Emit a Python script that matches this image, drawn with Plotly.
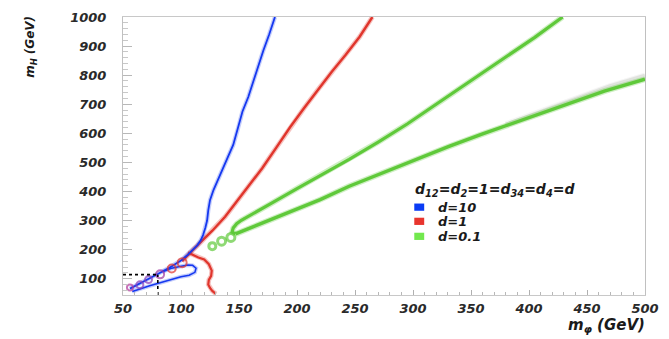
import plotly.graph_objects as go

# --- contour lines in the (m_phi, m_H) plane ---------------------------------
# d = 10 (blue)
blue_x = [56, 63, 71, 80, 90, 100, 106, 110, 114, 117, 119, 121, 122.5, 123.5, 125, 128,
          132, 136, 140, 145, 149, 153, 158, 162, 166, 171, 176, 181]
blue_y = [66, 80, 97, 116, 138, 163, 183, 200, 215, 232, 250, 275, 300, 335, 370, 405,
          440, 475, 515, 560, 615, 675, 725, 775, 830, 885, 940, 1000]
blue_loop_x = [84, 91, 99, 106, 110, 113, 112, 107, 100, 91, 82, 73, 64, 58]
blue_loop_y = [124, 135, 142, 147, 146, 136, 122, 112, 107, 97, 86, 76, 64, 56]

# d = 1 (red)
red_x = [101, 105, 110, 118, 127, 138, 148, 159, 170, 182, 194, 206, 218, 230, 242, 254, 265]
red_y = [160, 178, 198, 230, 265, 313, 365, 421, 480, 550, 621, 686, 750, 812, 870, 932, 1000]
red_low_x = [106, 110, 115, 120, 124, 126.5, 126, 124, 123.5, 125, 127, 130]
red_low_y = [190, 182, 173, 166, 150, 128, 110, 96, 80, 68, 58, 48]

# small closed islands along the diagonal
island_x = [56, 64.5, 72, 82, 92, 101]
island_y = [70, 79, 97, 115, 135, 155]
island_col = ["#b0389a", "#8a3fb8", "#8a3fb8", "#a0389e", "#e0352e", "#e0352e"]
island_size = [6, 7, 7, 8, 8, 9]

# d = 0.1 (green)
green_up_x = [147, 144, 145, 148, 152, 160, 177, 200, 222, 245, 270, 295, 320, 350, 380, 405, 429]
green_up_y = [254, 260, 274, 289, 301, 318, 357, 410, 460, 510, 570, 632, 700, 780, 860, 930, 1000]
green_lo_x = [147, 152, 159, 177, 200, 220, 245, 270, 300, 331, 360, 400, 432, 465, 500]
green_lo_y = [254, 262, 274, 302, 340, 372, 418, 458, 508, 555, 598, 653, 700, 745, 786]
green_spread_x = [380, 430, 470, 500]
green_spread_y = [630, 705, 762, 798]
green_dot_x = [127, 135, 143]
green_dot_y = [212, 229, 242]

# reference bounds (dashed)
lep_mh = 114
lep_mphi = 80

x_ticks = [50, 100, 150, 200, 250, 300, 350, 400, 450, 500]
y_ticks = [100, 200, 300, 400, 500, 600, 700, 800, 900, 1000]

legend_labels = ["d=10", "d=1", "d=0.1"]
legend_colors = ["#0a3cf5", "#e8352e", "#72e84e"]

BLUE = "#1538f0"
RED = "#e0352c"
GREEN = "#5fc93a"
FONT = "DejaVu Sans"

fig = go.Figure()


def soft_line(x, y, color, width, halo="rgba(0,0,0,0)"):
    # wide translucent underlay to soften the stroke, then the line itself
    fig.add_trace(go.Scatter(x=x, y=y, mode="lines", hoverinfo="skip",
                             line=dict(color=halo, width=width + 2.5), showlegend=False))
    fig.add_trace(go.Scatter(x=x, y=y, mode="lines", hoverinfo="skip",
                             line=dict(color=color, width=width), showlegend=False))


soft_line(green_spread_x, green_spread_y, "rgba(150,165,140,0.22)", 4, "rgba(160,160,160,0.10)")
soft_line(green_up_x, green_up_y, GREEN, 3.2, "rgba(95,201,58,0.3)")
soft_line(green_lo_x, green_lo_y, GREEN, 3.4, "rgba(95,201,58,0.3)")
soft_line(red_x, red_y, RED, 2.4, "rgba(224,53,44,0.3)")
soft_line(red_low_x, red_low_y, RED, 2.2, "rgba(224,53,44,0.3)")
soft_line(blue_x, blue_y, BLUE, 1.8, "rgba(21,56,240,0.25)")
soft_line(blue_loop_x, blue_loop_y, BLUE, 1.5, "rgba(21,56,240,0.25)")

fig.add_trace(go.Scatter(x=island_x, y=island_y, mode="markers", hoverinfo="skip", showlegend=False,
                         marker=dict(symbol="circle-open", size=island_size,
                                     line=dict(color=island_col, width=2), color=island_col)))
fig.add_trace(go.Scatter(x=green_dot_x, y=green_dot_y, mode="markers", hoverinfo="skip", showlegend=False,
                         marker=dict(symbol="circle-open", size=[7, 8, 8], color=GREEN,
                                     line=dict(color=GREEN, width=3))))

# dashed bounds
fig.add_trace(go.Scatter(x=[50, lep_mphi], y=[lep_mh, lep_mh], mode="lines", hoverinfo="skip",
                         showlegend=False, line=dict(color="black", width=1.6, dash="3px,3px")))
fig.add_trace(go.Scatter(x=[lep_mphi, lep_mphi], y=[44, lep_mh], mode="lines", hoverinfo="skip",
                         showlegend=False, line=dict(color="black", width=1.6, dash="3px,3px")))

tick_font = dict(family=FONT, size=13, color="#2a2a2a", weight="bold", style="italic")

fig.update_layout(
    width=669, height=339,
    margin=dict(l=123, r=23, t=10, b=44),
    paper_bgcolor="white", plot_bgcolor="white",
    showlegend=False,
    xaxis=dict(range=[50, 500], tickvals=x_ticks, ticks="inside", ticklen=5, tickwidth=1,
               tickcolor="#b0b0b0", showgrid=False, zeroline=False, showline=True,
               linecolor="#c8c8c8", linewidth=1, mirror=True, tickfont=tick_font,
               ticklabelstandoff=1,
               minor=dict(ticks="inside", dtick=10, ticklen=3, tickcolor="#b8b8b8")),
    yaxis=dict(range=[44, 1000], tickvals=y_ticks, ticks="inside", ticklen=9, tickwidth=1,
               tickcolor="#b8b8b8", showgrid=False, zeroline=False, showline=True,
               linecolor="#c0c0c0", linewidth=1, mirror=True, tickfont=tick_font,
               ticklabelstandoff=13,
               minor=dict(ticks="inside", dtick=20, ticklen=5, tickcolor="#c8c8c8")),
)

title_font = dict(family=FONT, size=15, color="#1a1a1a", weight="bold", style="italic")

fig.add_annotation(xref="paper", yref="paper", x=1.003, y=-0.108, xanchor="right", yanchor="middle",
                   text="m<sub>φ</sub> (GeV)", showarrow=False, font=title_font)
fig.add_annotation(xref="paper", yref="paper", x=-0.175, y=1.01, xanchor="center", yanchor="top",
                   text="m<sub>H</sub> (GeV)", textangle=-90, showarrow=False,
                   font=dict(family=FONT, size=12, color="#1a1a1a", weight="bold", style="italic"))

# legend block
leg_font = dict(family=FONT, size=13, color="#1a1a1a", weight="bold", style="italic")
fig.add_annotation(xref="paper", yref="paper", x=0.556, y=0.379, xanchor="left", yanchor="middle",
                   text="d<sub>12</sub>=d<sub>2</sub>=1=d<sub>34</sub>=d<sub>4</sub>=d",
                   showarrow=False, font=dict(family=FONT, size=14, color="#1a1a1a",
                                              weight="bold", style="italic"))
row_y = [0.316, 0.265, 0.211]
for lab, col, ry in zip(legend_labels, legend_colors, row_y):
    fig.add_shape(type="rect", xref="paper", yref="paper", x0=0.558, x1=0.577,
                  y0=ry - 0.013, y1=ry + 0.013, fillcolor=col, line=dict(width=0))
    fig.add_annotation(xref="paper", yref="paper", x=0.602, y=ry, xanchor="left", yanchor="middle",
                       text=lab, showarrow=False, font=leg_font, borderpad=0)

fig.write_html("out.html")
